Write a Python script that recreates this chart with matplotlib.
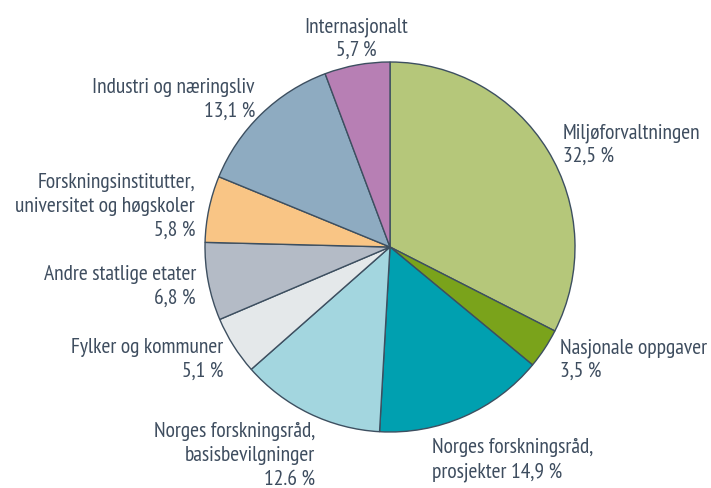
import numpy as np
import matplotlib.pyplot as plt

# shares of funding, clockwise from 12 o'clock
labels = ['Miljøforvaltningen\n32,5 %',
          'Nasjonale oppgaver\n3,5 %',
          'Norges forskningsråd,\nprosjekter 14,9 %',
          'Norges forskningsråd,\nbasisbevilgninger\n12.6 %',
          'Fylker og kommuner\n5,1 %',
          'Andre statlige etater\n6,8 %',
          'Forskningsinstitutter,\nuniversitet og høgskoler\n5,8 %',
          'Industri og næringsliv\n13,1 %',
          'Internasjonalt\n5,7 %']
values = [32.5, 3.5, 14.9, 12.6, 5.1, 6.8, 5.8, 13.1, 5.7]
colors = ['#b5c77a', '#7aa31b', '#00a0b0', '#a3d6df', '#e4e8ea',
          '#b4bbc6', '#f9c585', '#8eabc1', '#b77fb4']

# label anchor (pixel x, pixel baseline of first line, alignment)
label_pos = [(563, 138, 'left'), (560, 353, 'left'), (432, 453, 'left'),
             (315, 437, 'right'), (223, 353, 'right'), (196, 280, 'right'),
             (195, 188, 'right'), (255, 93, 'right'), (356, 32, 'center')]

plt.rcParams['font.family'] = ['PT Sans Narrow', 'DejaVu Sans']

textcol = '#3e4d5f'
W, H = 711, 488
pitch = 24.0
fig = plt.figure(figsize=(7.11, 4.88), dpi=100)
ax = fig.add_axes([0, 0, 1, 1])
ax.axis('off')

ax.pie(values, colors=colors, startangle=90, counterclock=False,
       center=(390, H - 247), radius=185,
       wedgeprops=dict(edgecolor='#3d4f60', linewidth=1.0))
ax.set_xlim(0, W)
ax.set_ylim(0, H)
ax.set_aspect('equal')

for lab, (x, y, ha) in zip(labels, label_pos):
    for i, line in enumerate(lab.split('\n')):
        ax.text(x, H - (y + i * pitch), line, ha=ha, va='baseline',
                fontsize=15.5, color=textcol)

plt.savefig('out.png', dpi=100)
